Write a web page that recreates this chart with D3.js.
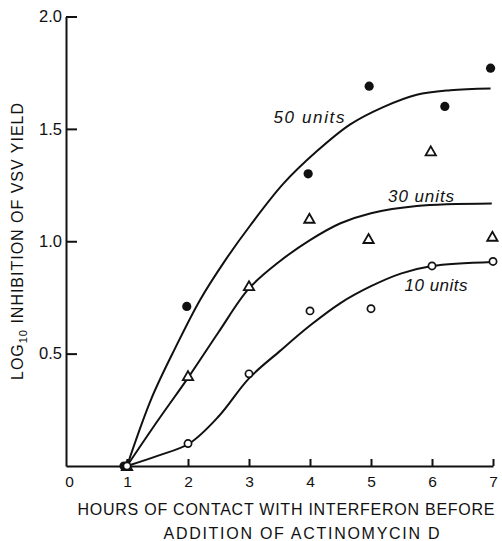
<!DOCTYPE html>
<html>
<head>
<meta charset="utf-8">
<script src="https://cdn.jsdelivr.net/npm/d3@7"></script>
<style>
  html, body { margin: 0; padding: 0; background: #fff; }
  svg { display: block; }
  text { font-family: "Liberation Sans", Arial, sans-serif; fill: #111; }
</style>
</head>
<body>
<svg id="chart" width="502" height="541"></svg>
<script>
// measured points
const hours50 = [1, 1.98, 3.97, 4.97, 6.21, 6.96];
const values50 = [0, 0.71, 1.30, 1.69, 1.60, 1.77];
const hours30 = [1, 2, 3, 3.99, 4.96, 5.98, 6.99];
const values30 = [0, 0.40, 0.80, 1.10, 1.01, 1.40, 1.02];
const hours10 = [1, 2, 3, 4, 5, 6, 7];
const values10 = [0, 0.10, 0.41, 0.69, 0.70, 0.89, 0.91];

// fitted curves as drawn in the figure
const curve50Hours = [1, 1.4, 1.8, 2.2, 2.61, 3.02, 3.56, 4.11, 4.66, 5.2, 5.75, 6.3, 6.96];
const curve50Values = [0, 0.30, 0.53, 0.74, 0.915, 1.07, 1.255, 1.40, 1.52, 1.597, 1.652, 1.672, 1.68];
const curve30Hours = [1, 1.5, 2.02, 2.5, 3.0, 3.5, 4.0, 4.5, 5.0, 5.75, 6.98];
const curve30Values = [0, 0.20, 0.40, 0.595, 0.79, 0.91, 1.005, 1.08, 1.125, 1.157, 1.168];
const curve10Hours = [1, 1.5, 2.02, 2.5, 3.0, 3.5, 4.0, 4.5, 5.0, 5.5, 6.0, 7.0];
const curve10Values = [0, 0.045, 0.10, 0.22, 0.39, 0.51, 0.625, 0.725, 0.80, 0.857, 0.89, 0.908];

const xTicks = [0, 1, 2, 3, 4, 5, 6, 7];
const yTicks = [0.5, 1.0, 1.5, 2.0];
const curveLabels = ['50 units', '30 units', '10 units'];

const svg = d3.select('#chart');
const ink = '#111';

const x = d3.scaleLinear().domain([0, 7]).range([66, 493]);
const y = d3.scaleLinear().domain([0, 2]).range([466, 16.5]);

// y axis, ticks pointing inward
const yAxis = svg.append('g')
  .attr('transform', `translate(${x(0)},0)`)
  .call(d3.axisLeft(y).tickValues(yTicks).tickSize(-11).tickSizeOuter(0)
    .tickPadding(4).tickFormat(d3.format('.1f')));

// x axis, ticks pointing up, no tick at 0
const xAxis = svg.append('g')
  .attr('transform', `translate(0,${y(0)})`)
  .call(d3.axisBottom(x).tickValues(xTicks).tickSize(-7).tickSizeOuter(0)
    .tickPadding(10).tickFormat(d3.format('d')));

xAxis.selectAll('.tick').filter(d => d === 0).select('line').remove();
xAxis.selectAll('.tick').filter(d => d === 0).select('text').attr('x', 3);

for (let ax of [xAxis, yAxis]) {
  ax.select('.domain').attr('stroke', ink).attr('stroke-width', 2);
  ax.selectAll('.tick line').attr('stroke', ink).attr('stroke-width', 2);
  ax.selectAll('.tick text')
    .attr('fill', ink)
    .style('font-family', '"Liberation Sans", Arial, sans-serif');
}
xAxis.selectAll('.tick text').style('font-size', '15.5px').attr('dy', '0.71em');
yAxis.selectAll('.tick text').style('font-size', '16.5px');

// axis titles
const yTitle = svg.append('text')
  .attr('transform', 'translate(22.5,241.5) rotate(-90)')
  .attr('text-anchor', 'middle')
  .attr('textLength', 277)
  .attr('lengthAdjust', 'spacing')
  .style('font-size', '16px');
yTitle.append('tspan').text('LOG');
yTitle.append('tspan').attr('dy', 4).style('font-size', '11px').text('10');
yTitle.append('tspan').attr('dy', -4).text(' INHIBITION OF VSV YIELD');

svg.append('text')
  .attr('x', 77.5).attr('y', 515)
  .attr('textLength', 417).attr('lengthAdjust', 'spacing')
  .style('font-size', '16px')
  .text('HOURS OF CONTACT WITH INTERFERON BEFORE');

svg.append('text')
  .attr('x', 163.5).attr('y', 539)
  .attr('textLength', 276).attr('lengthAdjust', 'spacing')
  .style('font-size', '16px')
  .text('ADDITION OF ACTINOMYCIN D');

// fitted curves
const line = d3.line()
  .x(d => x(d[0]))
  .y(d => y(d[1]))
  .curve(d3.curveCatmullRom.alpha(0.5));

const curves = [
  d3.zip(curve50Hours, curve50Values),
  d3.zip(curve30Hours, curve30Values),
  d3.zip(curve10Hours, curve10Values)
];

svg.selectAll('path.fit')
  .data(curves)
  .enter().append('path')
    .attr('class', 'fit')
    .attr('d', line)
    .attr('fill', 'none')
    .attr('stroke', ink)
    .attr('stroke-width', 2);

// curve labels
const labelPos = [[3.4, 1.525, 71], [5.28, 1.176, 66], [5.55, 0.78, 63]];
svg.selectAll('text.units')
  .data(curveLabels)
  .enter().append('text')
    .attr('class', 'units')
    .attr('x', (d, i) => x(labelPos[i][0]))
    .attr('y', (d, i) => y(labelPos[i][1]))
    .attr('textLength', (d, i) => labelPos[i][2])
    .attr('lengthAdjust', 'spacing')
    .style('font-size', '17px')
    .style('font-style', 'italic')
    .text(d => d);

// data points
const tri = d3.symbol().type(d3.symbolTriangle).size(46);

svg.selectAll('path.tri')
  .data(d3.zip(hours30, values30))
  .enter().append('path')
    .attr('class', 'tri')
    .attr('d', tri)
    .attr('transform', d => `translate(${x(d[0])},${y(d[1]) + 1})`)
    .attr('fill', '#fff')
    .attr('stroke', ink)
    .attr('stroke-width', 1.8);

svg.selectAll('circle.filled')
  .data(d3.zip(hours50, values50))
  .enter().append('circle')
    .attr('class', 'filled')
    .attr('cx', d => x(d[0]) - (d[1] === 0 ? 3 : 0))
    .attr('cy', d => y(d[1]))
    .attr('r', 4.6)
    .attr('fill', ink);

svg.selectAll('circle.open')
  .data(d3.zip(hours10, values10))
  .enter().append('circle')
    .attr('class', 'open')
    .attr('cx', d => x(d[0]))
    .attr('cy', d => y(d[1]))
    .attr('r', 3.6)
    .attr('fill', '#fff')
    .attr('stroke', ink)
    .attr('stroke-width', 1.7);
</script>
</body>
</html>
